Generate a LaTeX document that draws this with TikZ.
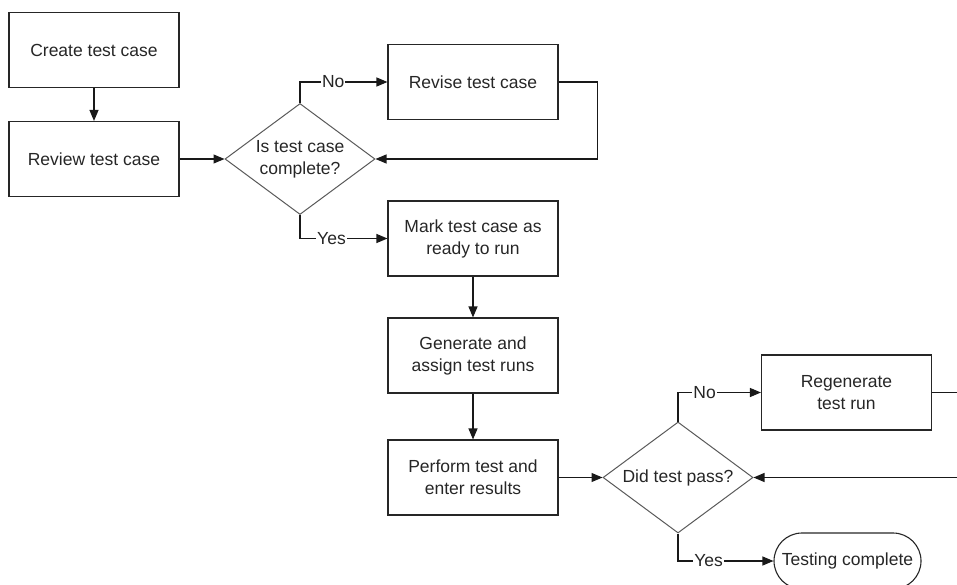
\documentclass[tikz,border=0pt]{standalone}
\usepackage{fontspec}
\setmainfont{Liberation Sans}
\usetikzlibrary{arrows.meta,shapes.geometric,shapes.misc}
\begin{document}
\begin{tikzpicture}[x=1pt,y=-1pt,
  txt/.style={text=black!85,font=\fontsize{17.5}{22}\selectfont},
  box/.style={txt,draw=black!85,line width=1.1pt,minimum width=170pt,minimum height=75pt,inner sep=2pt,align=center},
  dec/.style={txt,diamond,draw=black!65,line width=1pt,minimum width=150pt,minimum height=111pt,aspect=1.35,inner sep=0pt,align=center},
  term/.style={txt,rounded rectangle,draw=black!85,line width=1.1pt,minimum width=151pt,minimum height=56pt,inner sep=2pt},
  conn/.style={draw=black!90,line width=1.1pt,-{Triangle[length=11pt,width=9pt]}},
  wire/.style={draw=black!90,line width=1.1pt},
  lbl/.style={txt,fill=white,inner sep=1pt}]
\useasboundingbox (0,0) rectangle (957,585);
\clip (0,0) rectangle (957,585);

\node[box] (create) at (94,50) {Create test case};
\node[box] (review) at (94,159) {Review test case};
\node[dec] (d1) at (300,159) {Is test case\\complete?};
\node[box] (revise) at (473,82) {Revise test case};
\node[box] (mark) at (473,238.5) {Mark test case as\\ready to run};
\node[box] (gen) at (473,355.5) {Generate and\\assign test runs};
\node[box] (perf) at (473,477.5) {Perform test and\\enter results};
\node[dec] (d2) at (678,477.5) {Did test pass?};
\node[box] (regen) at (846.5,392.5) {Regenerate\\test run};
\node[term] (done) at (847.5,561) {Testing complete};
\coordinate (offA) at (975,392.5);
\coordinate (offB) at (975,477.5);

\draw[conn] (create) -- (review);
\draw[conn] (review) -- (d1);
\draw[conn] (d1.north) |- node[lbl,pos=0.69] {No} (revise.west);
\draw[conn] (revise.east) -- ++(39,0) |- (d1.east);
\draw[conn] (d1.south) |- node[lbl,pos=0.68] {Yes} (mark.west);
\draw[conn] (mark) -- (gen);
\draw[conn] (gen) -- (perf);
\draw[conn] (perf) -- (d2);
\draw[conn] (d2.north) |- node[lbl,pos=0.66] {No} (regen.west);
\draw[wire] (regen.east) -- (offA);
\draw[conn] (offB) -- (d2.east);
\draw[conn] (d2.south) |- node[lbl,pos=0.66] {Yes} (done.west);
\end{tikzpicture}
\end{document}
